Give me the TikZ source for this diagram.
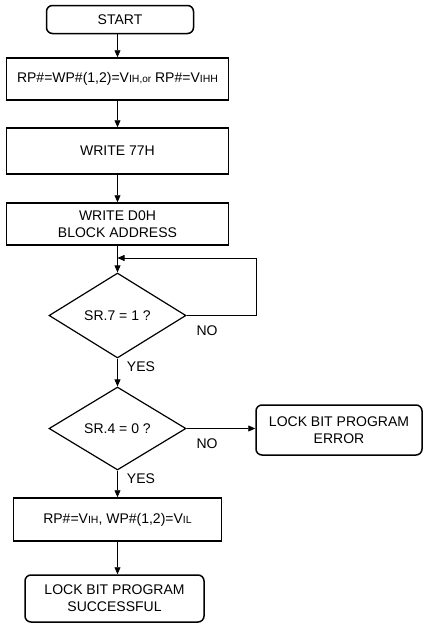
\documentclass[tikz,border=0pt]{standalone}
\usepackage{fontspec}
\setmainfont{Liberation Sans}
\usetikzlibrary{arrows.meta}
\usetikzlibrary{shapes}
\newcommand{\vsub}[1]{V{\fontsize{10.5}{10.5}\selectfont #1}}
\tikzset{
	every node/.style={font=\fontsize{14}{17}\selectfont},
	align=center,
	box/.style={
		draw,
		rectangle,
		line width=1.5pt,
		inner sep=0pt,
	},
	term/.style={
		box,
		rounded corners=6pt,
	},
	test/.style={
		draw,
		diamond,
		line width=1.2pt,
		inner sep=0pt,
		minimum width=137pt,
	},
	flow/.style={
		line width=0.7pt,
		-{Triangle[length=7pt,width=6pt]}
	},
	lbl/.style={
		inner sep=0pt,
	},
}

\begin{document}
\begin{tikzpicture}[x=1pt,y=-1pt]
		\useasboundingbox (0,0) rectangle (432,627);

		\node[term, minimum width=147pt, minimum height=28pt] (start) at (120,19.5) {START};
		\node[box, minimum width=222pt, minimum height=42pt] (vpp) at (117.5,79) {RP\#=WP\#(1,2)=\vsub{IH}{\fontsize{10}{10}\selectfont,or} RP\#=\vsub{IHH}};
		\node[box, minimum width=222pt, minimum height=46pt] (w77) at (117.5,151) {WRITE 77H};
		\node[box, minimum width=222pt, minimum height=42pt] (wd0) at (117.5,224) {WRITE D0H\\BLOCK ADDRESS};
		\node[test, minimum height=85pt] (sr7) at (117.5,315.5) {SR.7 = 1 ?};
		\node[test, minimum height=83pt] (sr4) at (117.5,428.5) {SR.4 = 0 ?};
		\node[term, minimum width=166pt, minimum height=50pt] (err) at (339,430) {LOCK BIT PROGRAM\\ERROR};
		\node[box, minimum width=208pt, minimum height=43pt] (vil) at (117.5,519.5) {RP\#=\vsub{IH}, WP\#(1,2)=\vsub{IL}};
		\node[term, minimum width=179pt, minimum height=47pt] (done) at (114.5,598.5) {LOCK BIT PROGRAM\\SUCCESSFUL};

		\node[lbl] (no7) at (207,331) {NO};
		\node[lbl] (yes7) at (141,367) {YES};
		\node[lbl] (no4) at (207,444) {NO};
		\node[lbl] (yes4) at (141,479) {YES};

		\coordinate (loop) at (256,258);
		\coordinate (join) at (117.5,258);

		\draw[flow] (vpp.north |- start.south) -- (vpp.north);
		\draw[flow] (vpp) -- (w77);
		\draw[flow] (w77) -- (wd0);
		\draw[flow] (wd0) -- (sr7);
		\draw[flow] (sr7.east) -| (loop) -- (join);
		\draw[flow] (sr7) -- (sr4);
		\draw[flow] (sr4.east) -- (sr4.east -| err.west);
		\draw[flow] (sr4) -- (vil);
		\draw[flow] (vil.south) -- (vil.south |- done.north);

	\end{tikzpicture}
\end{document}
